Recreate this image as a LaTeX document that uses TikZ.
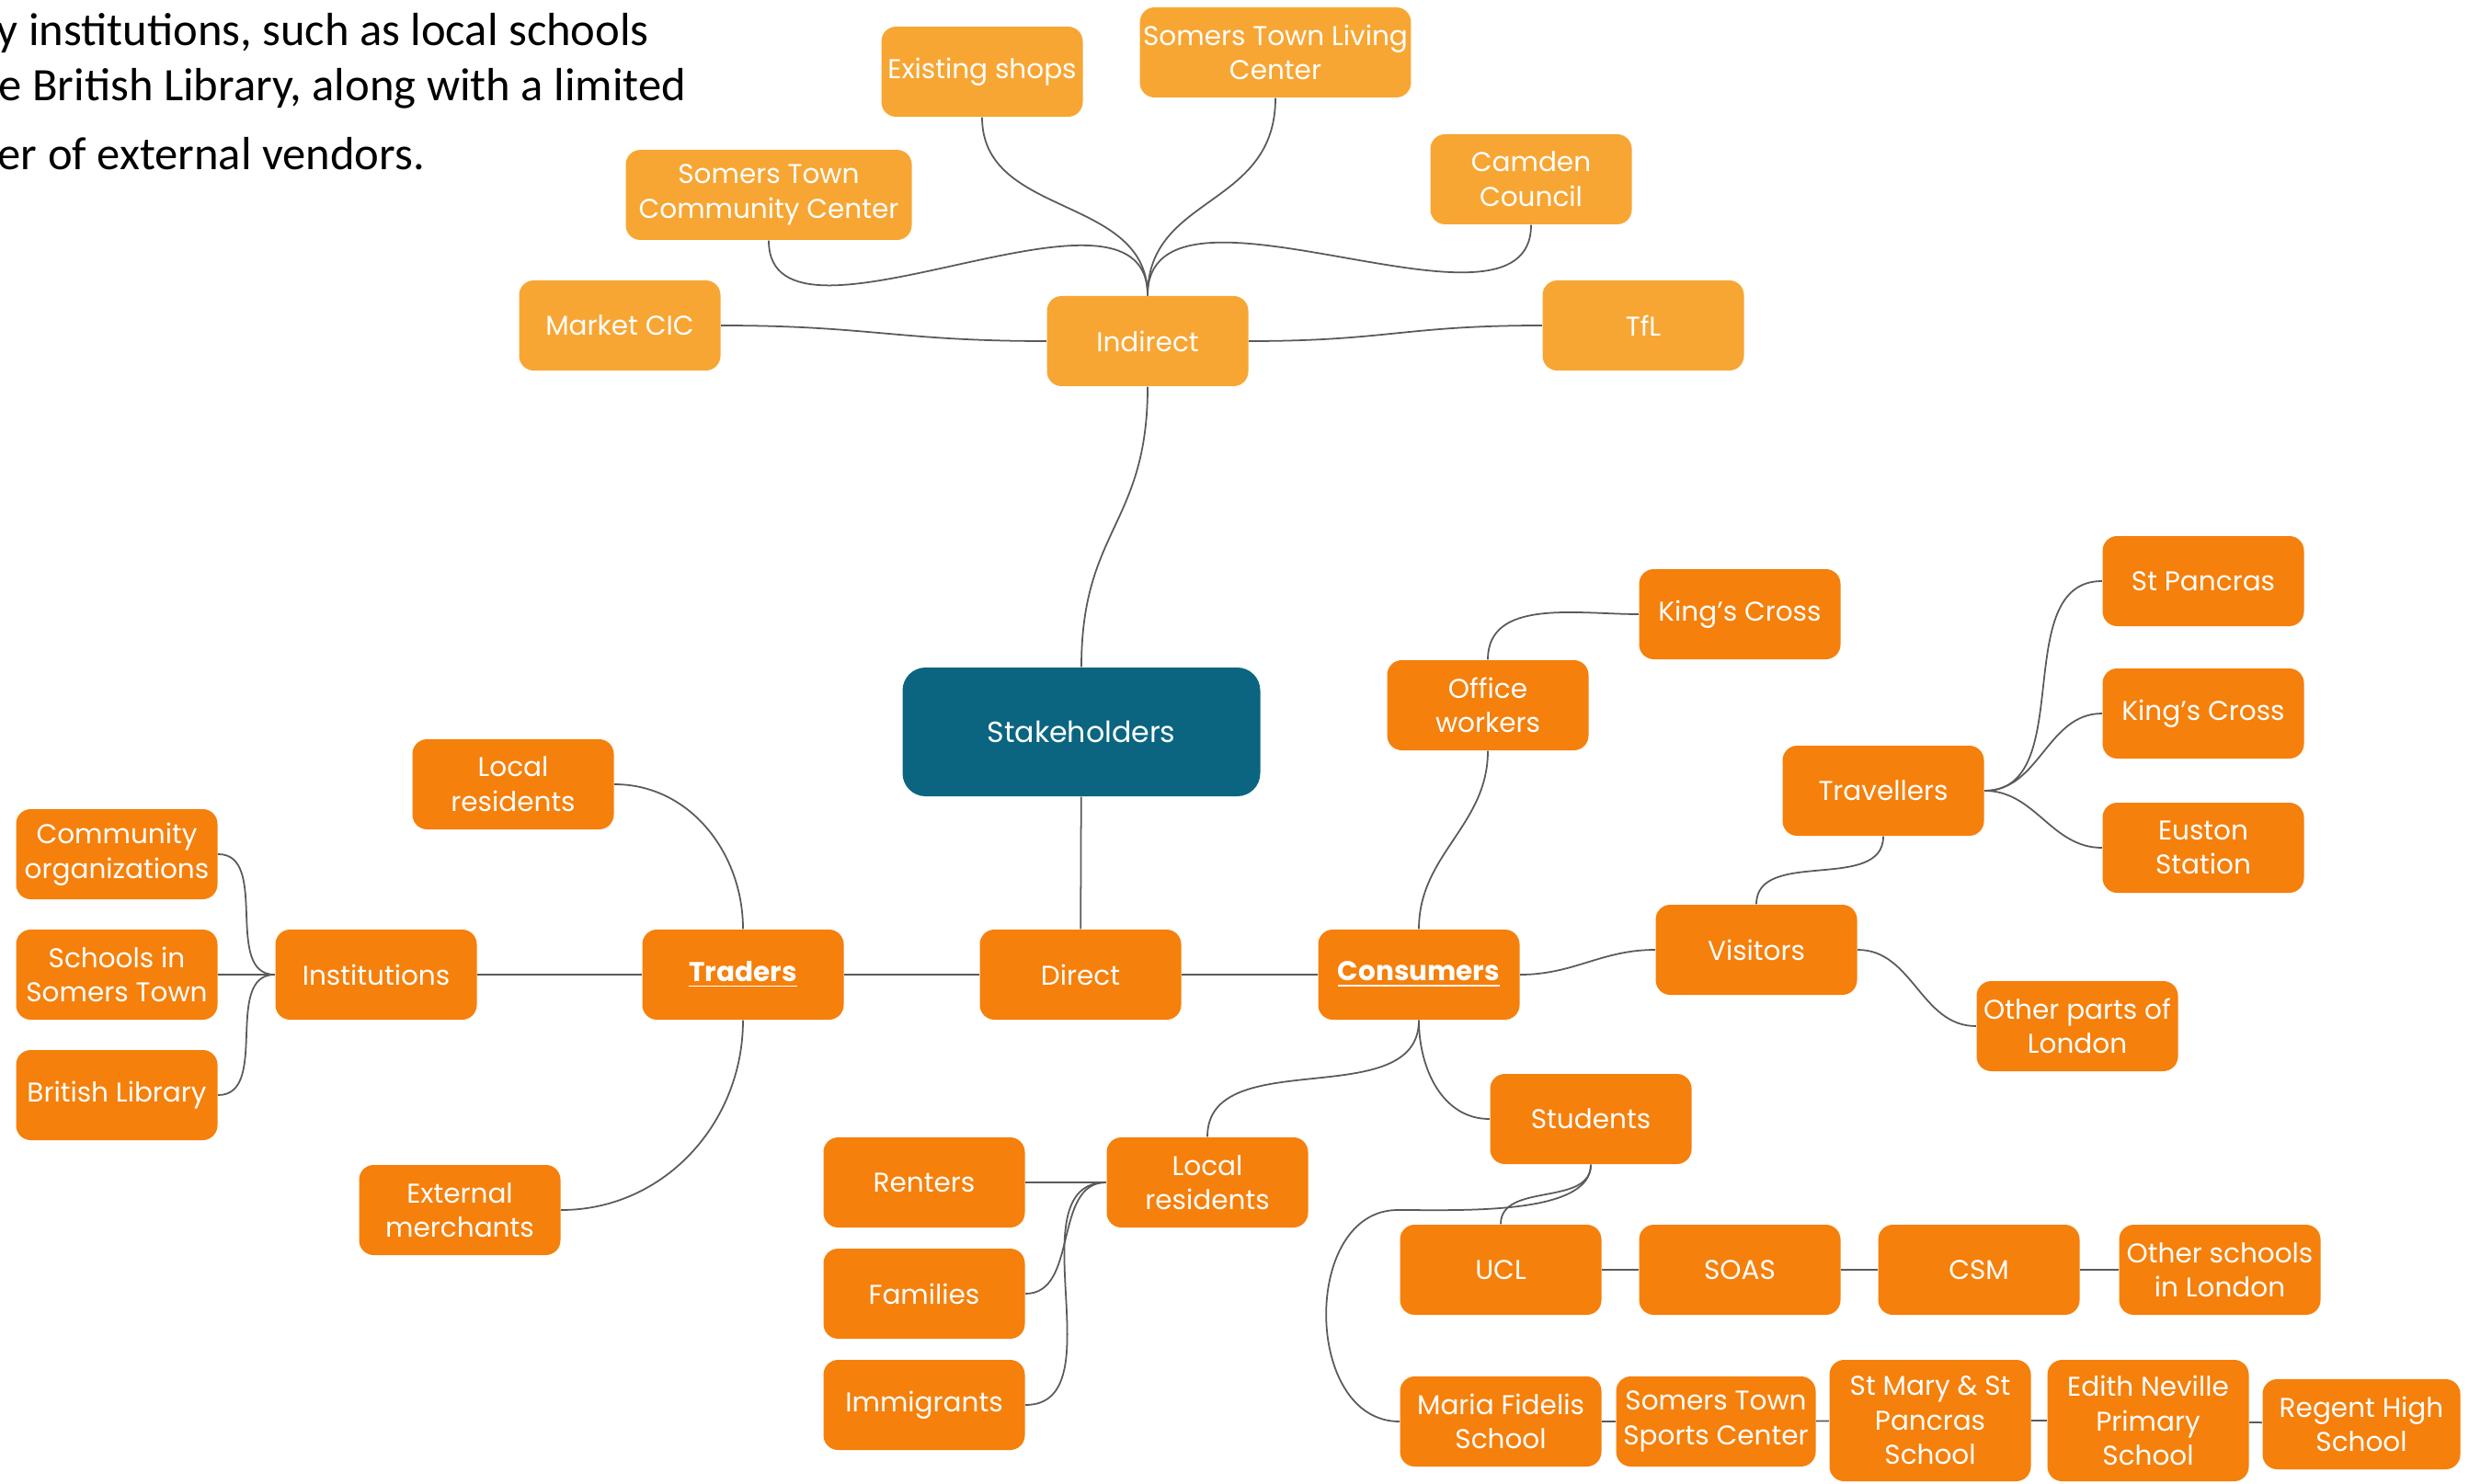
\documentclass[tikz,border=0pt]{standalone}
\usepackage{fontspec}
\setmainfont{Poppins}
\newfontfamily\notefont{Carlito}
\usetikzlibrary{positioning}
\definecolor{lightorange}{HTML}{F7A634}
\definecolor{mainorange}{HTML}{F5800C}
\definecolor{teal}{HTML}{0B6580}
\definecolor{linkgray}{HTML}{5A5A5A}
\tikzset{box/.style={rounded corners=0.16cm, fill=mainorange, text=white, align=center,
    minimum width=2.19cm, minimum height=0.98cm, inner sep=1pt,
    font=\fontsize{8.4}{10.7}\selectfont}}
\tikzset{lbox/.style={box, fill=lightorange}}
\tikzset{tallbox/.style={box, minimum height=1.32cm}}
\tikzset{link/.style={linkgray, line width=0.5pt}}
\tikzset{note/.style={anchor=base west, inner sep=0pt, font=\notefont\fontsize{14.4}{17}\selectfont}}

\begin{document}
\begin{tikzpicture}
  \useasboundingbox (0,0) rectangle (26.85,-16.14);
  \fill[white] (0,0) rectangle (26.85,-16.14);

  % cut-off text of the slide
  \node[note] (noteA) at (-0.04,-0.50) {y institutions, such as local schools};
  \node[note] (noteB) at (-0.02,-1.10) {e British Library, along with a limited};
  \node[note] (noteC) at (-0.03,-1.85) {er of external vendors.};

  % indirect branch
  \node[lbox] (indirect) at (12.48,-3.71) {Indirect};
  \node[lbox] (shops) at (10.68,-0.78) {Existing shops};
  \node[lbox] (living) at (13.87,-0.57) {Somers Town Living\\Center};
  \node[lbox, minimum width=3.11cm] (community) at (8.36,-2.12) {Somers Town\\Community Center};
  \node[lbox] (camden) at (16.65,-1.95) {Camden\\Council};
  \node[lbox] (market) at (6.74,-3.54) {Market CIC};
  \node[lbox] (tfl) at (17.87,-3.54) {TfL};

  % root
  \node[box, fill=teal, minimum width=3.89cm, minimum height=1.40cm, rounded corners=0.25cm,
    font=\fontsize{9}{11}\selectfont] (stake) at (11.76,-7.96) {Stakeholders};

  % direct branch
  \node[box] (direct) at (11.75,-10.60) {Direct};
  \node[box] (traders) at (8.08,-10.60) {\textbf{\underline{Traders}}};
  \node[box] (consumers) at (15.43,-10.60) {\textbf{\underline{Consumers}}};

  % traders side
  \node[box] (inst) at (4.09,-10.60) {Institutions};
  \node[box] (tlocal) at (5.58,-8.53) {Local\\residents};
  \node[box] (commorg) at (1.27,-9.29) {Community\\organizations};
  \node[box] (schools) at (1.27,-10.60) {Schools in\\Somers Town};
  \node[box] (library) at (1.27,-11.91) {British Library};
  \node[box] (external) at (5.00,-13.16) {External\\merchants};

  % consumers side
  \node[box] (office) at (16.18,-7.67) {Office\\workers};
  \node[box] (kx) at (18.92,-6.68) {King's Cross};
  \node[box] (travel) at (20.48,-8.60) {Travellers};
  \node[box] (stp) at (23.96,-6.32) {St Pancras};
  \node[box] (kxb) at (23.96,-7.76) {King's Cross};
  \node[box] (euston) at (23.96,-9.22) {Euston\\Station};
  \node[box] (visitors) at (19.10,-10.33) {Visitors};
  \node[box] (otherlon) at (22.59,-11.16) {Other parts of\\London};
  \node[box] (students) at (17.30,-12.17) {Students};
  \node[box] (clocal) at (13.13,-12.86) {Local\\residents};
  \node[box] (renters) at (10.05,-12.86) {Renters};
  \node[box] (families) at (10.05,-14.07) {Families};
  \node[box] (immig) at (10.05,-15.28) {Immigrants};

  % schools
  \node[box] (ucl) at (16.32,-13.81) {UCL};
  \node[box] (soas) at (18.92,-13.81) {SOAS};
  \node[box] (csm) at (21.52,-13.81) {CSM};
  \node[box] (otherschool) at (24.14,-13.81) {Other schools\\in London};
  \node[box] (mf) at (16.32,-15.46) {Maria Fidelis\\School};
  \node[box, minimum width=2.17cm] (sports) at (18.66,-15.46) {Somers Town\\Sports Center};
  \node[tallbox] (stmary) at (20.99,-15.45) {St Mary \& St\\Pancras\\School};
  \node[tallbox] (edith) at (23.36,-15.45) {Edith Neville\\Primary\\School};
  \node[box, minimum width=2.15cm] (regent) at (25.68,-15.49) {Regent High\\School};

  \coordinate (mfbend) at (15.20,-13.16);

  % links above
  \draw[link] (shops.south) .. controls +(0,-1.1) and +(0,1.1) .. (indirect.north);
  \draw[link] (living.south) .. controls +(0,-1.2) and +(0,1.1) .. (indirect.north);
  \draw[link] (community.south) .. controls +(0,-1.45) and +(0,1.55) .. (indirect.north);
  \draw[link] (camden.south) .. controls +(0,-1.45) and +(0,1.55) .. (indirect.north);
  \draw[link] (market.east) .. controls +(1.6,0) and +(-1.6,0) .. (indirect.west);
  \draw[link] (indirect.east) .. controls +(1.5,0) and +(-1.5,0) .. (tfl.west);
  \draw[link] (indirect.south) .. controls +(0,-1.5) and +(0,1.5) .. (stake.north);

  % links below
  \draw[link] (stake) -- (direct);
  \draw[link] (traders) -- (direct);
  \draw[link] (direct) -- (consumers);
  \draw[link] (inst) -- (traders);
  \draw[link] (traders.north) to[out=90,in=0] (tlocal.east);
  \draw[link] (traders.south) to[out=-90,in=0] (external.east);
  \foreach \n in {commorg,schools,library}
    \draw[link] (inst.west) to[out=180,in=0] (\n.east);

  \draw[link] (consumers.north) to[out=90,in=-90] (office.south);
  \draw[link] (office.north) to[out=90,in=180] (kx.west);
  \draw[link] (consumers.east) to[out=0,in=180] (visitors.west);
  \draw[link] (visitors.north) to[out=90,in=-90] (travel.south);
  \foreach \n in {stp,kxb,euston}
    \draw[link] (travel.east) to[out=0,in=180] (\n.west);
  \draw[link] (visitors.east) to[out=0,in=180] (otherlon.west);
  \draw[link] (consumers.south) to[out=-90,in=90] (clocal.north);
  \draw[link] (consumers.south) to[out=-90,in=180] (students.west);
  \foreach \n in {renters,families,immig}
    \draw[link] (clocal.west) to[out=180,in=0] (\n.east);
  \draw[link] (students.south) to[out=-90,in=90] (ucl.north);
  \draw[link] (students.south) .. controls +(0,-0.55) and +(0.7,0) .. (mfbend)
    .. controls +(-1.05,0) and +(-1.05,0) .. (mf.west);

  % rows of schools
  \foreach \a/\b in {ucl/soas,soas/csm,csm/otherschool,mf/sports,sports/stmary,stmary/edith,edith/regent}
    \draw[link] (\a) -- (\b);
\end{tikzpicture}
\end{document}
